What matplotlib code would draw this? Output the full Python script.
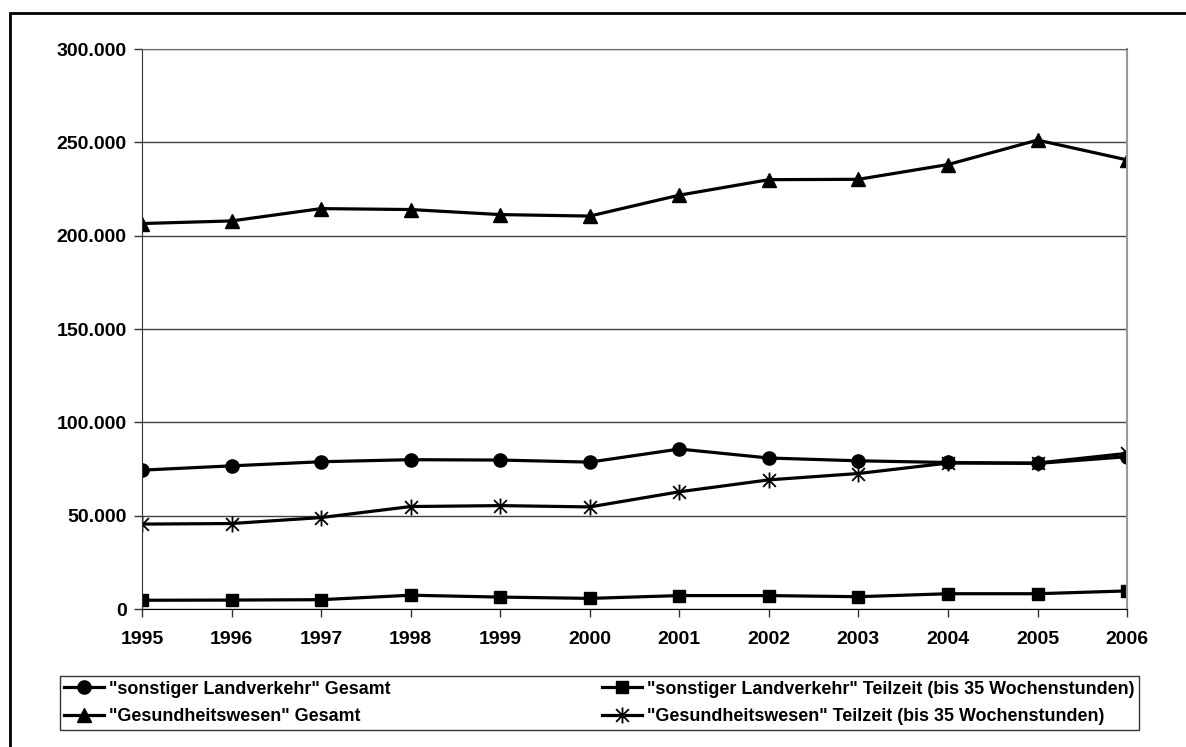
import matplotlib
matplotlib.use("Agg")
import matplotlib.pyplot as plt
from matplotlib.path import Path
from matplotlib.ticker import FuncFormatter
from matplotlib.patches import Rectangle

# data
years = [1995, 1996, 1997, 1998, 1999, 2000, 2001, 2002, 2003, 2004, 2005, 2006]
landverkehr_gesamt = [74400, 76700, 78900, 80000, 79800, 78700, 85700, 80900, 79400, 78500, 78000, 81600]
landverkehr_teilzeit = [4700, 4800, 5000, 7400, 6400, 5700, 7200, 7200, 6600, 8200, 8200, 9700]
gesundheit_gesamt = [206500, 207900, 214500, 214000, 211300, 210500, 221700, 230000, 230200, 238100, 251200, 240600]
gesundheit_teilzeit = [45500, 45800, 49000, 54900, 55400, 54700, 62800, 69200, 72600, 78200, 78200, 83400]

labels = ['"sonstiger Landverkehr" Gesamt',
          '"sonstiger Landverkehr" Teilzeit (bis 35 Wochenstunden)',
          '"Gesundheitswesen" Gesamt',
          '"Gesundheitswesen" Teilzeit (bis 35 Wochenstunden)']

plt.rcParams['font.family'] = ['Liberation Sans', 'DejaVu Sans']
plt.rcParams['font.weight'] = 'bold'

# asterisk marker like the Excel star (X plus vertical bar)
star = Path([(0, -1), (0, 1), (-0.8, -0.8), (0.8, 0.8), (-0.8, 0.8), (0.8, -0.8)],
            [Path.MOVETO, Path.LINETO, Path.MOVETO, Path.LINETO, Path.MOVETO, Path.LINETO])

fig = plt.figure(figsize=(11.86, 7.47), dpi=100)
ax = fig.add_axes([0.1197, 0.1847, 0.8306, 0.7497])

lw = 2.3
l1, = ax.plot(years, landverkehr_gesamt, color='black', lw=lw, marker='o', ms=9.5)
l2, = ax.plot(years, landverkehr_teilzeit, color='black', lw=lw, marker='s', ms=9)
l3, = ax.plot(years, gesundheit_gesamt, color='black', lw=lw, marker='^', ms=10.5)
l4, = ax.plot(years, gesundheit_teilzeit, color='black', lw=lw, marker=star, ms=11.5,
              mew=1.3)

ax.set_xlim(1995, 2006)
ax.set_ylim(0, 300000)
ax.set_xticks(years)
ax.set_yticks(range(0, 300001, 50000))
ax.yaxis.set_major_formatter(FuncFormatter(lambda v, p: f"{int(v):,}".replace(",", ".")))
ax.tick_params(axis='both', labelsize=14, length=6, width=1, color='#333333', direction='out')
ax.tick_params(axis='x', pad=10)
ax.tick_params(axis='y', pad=5)
for t in ax.get_xticklabels() + ax.get_yticklabels():
    t.set_fontweight('bold')

ax.grid(axis='y', color='#404040', lw=1.0)
ax.set_axisbelow(True)
ax.spines['left'].set_color('#333333')
ax.spines['bottom'].set_color('black')
ax.spines['right'].set_color('#999999')
ax.spines['top'].set_color('#666666')
ax.spines['right'].set_linewidth(1.5)

# legend across the bottom in two columns
leg = fig.legend([l1, l3, l2, l4], [labels[0], labels[2], labels[1], labels[3]],
                 ncol=2, mode='expand', loc='center',
                 bbox_to_anchor=(60 / 1186, 1 - 730 / 747, 1079 / 1186, 54 / 747),
                 prop={'size': 12.9, 'weight': 'bold'}, frameon=True, fancybox=False,
                 edgecolor='black', handlelength=2.2, handletextpad=0.3,
                 labelspacing=0.6, borderpad=0.25, borderaxespad=0)
leg.get_frame().set_linewidth(1.0)

# outer frame (only left and top edges visible)
fig.patches.append(Rectangle((9.5 / 1186, -0.1), 1.2, 1 - 13 / 747 + 0.1,
                             transform=fig.transFigure, fill=False,
                             edgecolor='black', lw=2, figure=fig))

plt.savefig("out.png", dpi=100)
